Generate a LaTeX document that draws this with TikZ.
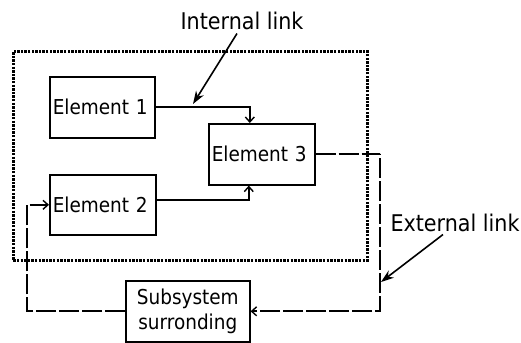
\documentclass[tikz,border=0pt]{standalone}
\usepackage{fontspec}
\setmainfont{DejaVu Sans Condensed}
\usetikzlibrary{arrows.meta,calc}
\begin{document}
\begin{tikzpicture}[x=1pt,y=-1pt,
  every node/.style={font=\fontsize{20.5}{25}\selectfont},
  lbl/.style={font=\fontsize{23}{27}\selectfont,inner sep=1pt},
  box/.style={draw,line width=1.6pt,inner xsep=3pt,inner ysep=0pt,align=left},
  intl/.style={line width=1.7pt,-{Straight Barb[length=5pt,width=9pt,line width=1.4pt]}},
  extl/.style={line width=1.7pt,dash pattern=on 20pt off 3pt,-{Straight Barb[length=5pt,width=9pt,line width=1.4pt]}},
  callout/.style={line width=1.6pt,-{Stealth[length=13pt,width=9pt]}},
  framebox/.style={draw,line width=2.6pt,dash pattern=on 2.4pt off 1.2pt}
]
\useasboundingbox (0,0) rectangle (521,342);
\node[framebox,minimum width=354pt,minimum height=209pt,anchor=north west] (frame) at (12,50) {};
\node[box,minimum width=105pt,minimum height=61pt,text width=99pt,anchor=north west] (e1) at (49,76) {Element 1};
\node[box,minimum width=106pt,minimum height=60pt,text width=100pt,anchor=north west] (e2) at (49,174) {Element 2};
\node[box,minimum width=106pt,minimum height=61pt,text width=100pt,anchor=north west] (e3) at (208,123) {Element 3};
\node[box,minimum width=124pt,minimum height=61pt,text width=118pt,align=center,anchor=north west] (sub) at (125,280) {Subsystem\\surronding};
\node[lbl,anchor=base] (lint) at (242,30) {Internal link};
\node[lbl,anchor=base] (lext) at (455,231) {External link};
\coordinate (c1) at (380,154);
\coordinate (c2) at (27,250);
\coordinate (pint) at (193,104);
\coordinate (pext) at (381,282);
\draw[intl] (e1.east) -| ([xshift=-12pt]e3.north);
\draw[intl] ([yshift=5pt]e2.east) -| ([xshift=-13pt]e3.south);
\draw[extl] (e3.east) -| (c1) |- (sub.east);
\draw[extl] (sub.west) -| (c2) |- (e2.west);
\draw[callout] ([xshift=-5pt,yshift=-2pt]lint.south) -- (pint);
\draw[callout] ([xshift=-12pt,yshift=-2pt]lext.south) -- (pext);
\end{tikzpicture}
\end{document}
